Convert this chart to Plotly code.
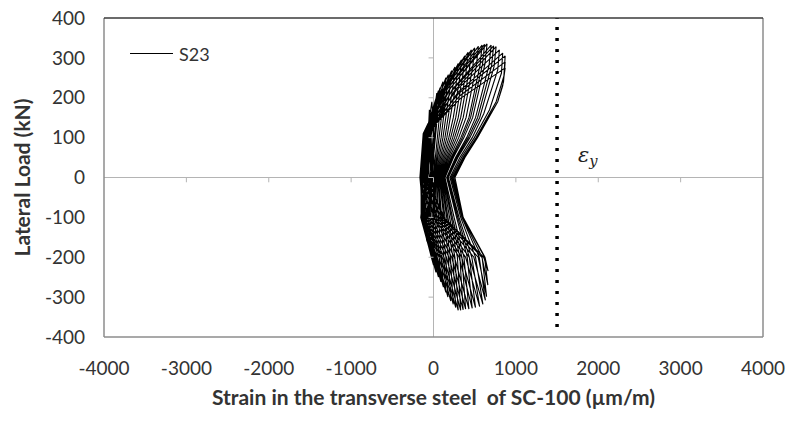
import plotly.graph_objects as go

# ---------------- data ----------------
# Hysteresis record of specimen S23: strain in transverse steel (µm/m) vs lateral load (kN)
strain_um = [
    0, -20, -40, -25, -10, -40, -80, -60, -30,                                     # i1
    -50, -60, -40, -20, -60, -110, -90, -50,                                       # i2
    -70, -50, -30, -10, -70, -90, -110, -70,                                       # i3
    -90, -20, 0, 10, -90, -80, -140, -100,                                         # i4
    -40, 0, 40, 15, -4, -24, -40, -60, -70, -150,                                  # c1
    -130, -90, -30, 60, 35, 10, -12, -30, -45, -50, -155,                          # c2
    -100, -60, -10, 80, 55, 25, 0, -20, -30, -30, -150,                            # c3
    -140, -100, -14, 115, 90, 52, 23, 0, -10, -5, 0, -26, -150,                    # c4
    -90, -50, 20, 150, 125, 73, 38, 10, 0, 10, 30, -19, -150,                      # c5
    -150, -110, 6, 180, 155, 92, 52, 20, 15, 40, 60, -5, -150,                     # c6
    -80, -40, 40, 220, 195, 115, 68, 30, 35, 65, 90, 9, -145,                      # c7
    -155, -115, 35, 260, 235, 139, 84, 40, 60, 95, 120, 22, -140,                  # c8
    -70, -30, 80, 300, 275, 162, 100, 50, 85, 125, 150, 36, -135,                  # c9
    -160, -120, 64, 340, 315, 240, 186, 116, 60, 100, 150, 175, 45, -130,          # c10
    -100, -60, 100, 380, 355, 270, 209, 132, 70, 125, 180, 210, 67, -120,          # c11
    -165, -125, 93, 420, 395, 300, 233, 148, 80, 140, 205, 240, 87, -115,          # c12
    -110, -70, 130, 460, 435, 330, 256, 164, 90, 160, 235, 270, 106, -105,         # c13
    -165, -125, 125, 500, 475, 360, 280, 180, 100, 175, 260, 300, 127, -90,        # c14
    -120, -80, 160, 545, 520, 395, 306, 197, 110, 195, 290, 330, 157, -70,         # c15
    -158, -118, 165, 590, 565, 430, 332, 214, 120, 215, 320, 360, 188, -50,        # c16
    -110, -70, 200, 620, 595, 450, 350, 228, 130, 230, 345, 390, 221, -30,         # c17
    -150, -110, 194, 650, 625, 475, 369, 242, 140, 250, 370, 430, 254, 0,          # c18
    -100, -60, 230, 700, 675, 510, 403, 268, 160, 280, 410, 470, 311, 10,          # c19
    -140, -100, 232, 730, 705, 535, 422, 282, 170, 295, 435, 510, 342, 30,         # c20
    -90, -50, 260, 760, 735, 560, 441, 296, 180, 310, 465, 560, 390, 50,           # c21
    -120, -80, 272, 800, 780, 610, 470, 320, 200, 330, 510, 600, 434, 70,          # c22
    -80, -40, 300, 840, 825, 680, 496, 340, 215, 345, 555, 630, 490, 90,           # c23
    -100, -60, 312, 870, 855, 760, 518, 358, 230, 350, 590, 645, 542, 110,         # c24
    -70, -30, 320, 870, 850, 780, 526, 370, 245, 355, 620, 660, 588, 120,          # c25
    -80, -40, 324, 870, 840, 780, 534, 382, 260, 360, 625, 663, 610, 130, -80,     # c26
]
load_kN = [
    0, 60, 120, 80, 0, -60, -110, -60, 0,                                          # i1
    70, 140, 90, 0, -70, -130, -70, 0,                                             # i2
    80, 170, 110, 0, -80, -150, -80, 0,                                            # i3
    90, 190, 120, 0, -90, -160, -90, 0,                                            # i4
    100, 156, 212, 162, 100, 50, 0, -100, -160, -100,                              # c1
    0, 100, 159, 218, 168, 100, 50, 0, -100, -180, -100,                           # c2
    0, 100, 162, 225, 175, 100, 50, 0, -100, -195, -100,                           # c3
    0, 100, 170, 240, 190, 100, 50, 0, -100, -200, -220, -200, -100,               # c4
    0, 100, 175, 250, 200, 100, 50, 0, -100, -200, -238, -200, -100,               # c5
    0, 100, 179, 258, 208, 100, 50, 0, -100, -200, -250, -200, -100,               # c6
    0, 100, 184, 268, 218, 100, 50, 0, -100, -200, -262, -200, -100,               # c7
    0, 100, 188, 277, 227, 100, 50, 0, -100, -200, -275, -200, -100,               # c8
    0, 105, 195, 286, 236, 100, 50, 0, -100, -200, -288, -200, -100,               # c9
    0, 105, 200, 295, 245, 150, 100, 50, 0, -100, -200, -300, -200, -100,          # c10
    0, 105, 205, 305, 255, 150, 100, 50, 0, -100, -200, -310, -200, -100,          # c11
    0, 105, 210, 314, 264, 150, 100, 50, 0, -100, -200, -318, -200, -100,          # c12
    0, 110, 215, 320, 270, 150, 100, 50, 0, -100, -200, -326, -200, -100,          # c13
    0, 110, 218, 325, 275, 150, 100, 50, 0, -100, -200, -333, -200, -100,          # c14
    0, 110, 220, 329, 279, 150, 100, 50, 0, -100, -200, -333, -200, -100,          # c15
    0, 110, 221, 332, 282, 150, 100, 50, 0, -100, -200, -332, -200, -100,          # c16
    0, 110, 222, 334, 284, 150, 100, 50, 0, -100, -200, -330, -200, -100,          # c17
    0, 110, 222, 335, 285, 150, 100, 50, 0, -100, -200, -330, -200, -100,          # c18
    0, 110, 221, 332, 282, 150, 100, 50, 0, -100, -200, -328, -200, -100,          # c19
    0, 110, 220, 330, 280, 150, 100, 50, 0, -100, -200, -326, -200, -100,          # c20
    0, 110, 219, 328, 278, 150, 100, 50, 0, -100, -200, -324, -200, -100,          # c21
    0, 115, 218, 320, 270, 160, 100, 50, 0, -100, -200, -318, -200, -100,          # c22
    0, 115, 214, 312, 262, 170, 100, 50, 0, -100, -200, -308, -200, -100,          # c23
    0, 120, 212, 305, 255, 190, 100, 50, 0, -100, -200, -299, -200, -100,          # c24
    0, 120, 205, 290, 240, 190, 100, 50, 0, -100, -200, -270, -200, -100,          # c25
    0, 120, 198, 275, 230, 190, 100, 50, 0, -100, -200, -235, -200, -100, 0,       # c26
]
assert len(strain_um) == len(load_kN)

# yield strain marker
yield_strain = [1500, 1500]
yield_load = [-375, 400]
yield_label = "<i>ε<sub>y</sub></i>"

series_name = "S23"
x_ticks = [-4000, -3000, -2000, -1000, 0, 1000, 2000, 3000, 4000]
y_ticks = [-400, -300, -200, -100, 0, 100, 200, 300, 400]
x_title = "Strain in the transverse steel  of SC-100 (µm/m)"
y_title = "Lateral Load (kN)"

# ---------------- figure ----------------
FONT = "Lato, 'DejaVu Sans', sans-serif"
TXT = "#333333"
fig = go.Figure()

fig.add_trace(go.Scatter(
    x=strain_um, y=load_kN, mode="lines", name=series_name,
    line=dict(color="#000000", width=1.1), showlegend=False,
))
fig.add_trace(go.Scatter(
    x=yield_strain, y=yield_load, mode="lines", showlegend=False,
    line=dict(color="#000000", width=3.5, dash="3px,8px"),
))

fig.add_annotation(
    x=1870, y=55, xref="x", yref="y", text=yield_label, showarrow=False,
    font=dict(family="'DejaVu Serif', serif", size=21, color="#222222"),
)

# legend drawn Excel-style (longer line sample)
fig.add_annotation(
    x=0.1107, y=0.8887, xref="paper", yref="paper", xanchor="left", yanchor="middle",
    text=series_name, showarrow=False, font=dict(family=FONT, size=18, color=TXT),
)

shapes = [dict(type="line", xref="paper", yref="paper", x0=0.0395, x1=0.1047,
               y0=0.8887, y1=0.8887, line=dict(color="#000000", width=1))]
# small tick marks on the zero lines (axes crossing at zero)
for t in x_ticks[1:-1]:
    shapes.append(dict(type="line", xref="x", yref="y", x0=t, x1=t, y0=0, y1=-12,
                       line=dict(color="#b4b4b4", width=1)))
for t in y_ticks[1:-1]:
    shapes.append(dict(type="line", xref="x", yref="y", x0=-60, x1=0, y0=t, y1=t,
                       line=dict(color="#b4b4b4", width=1)))
# plot-area frame: grey left/right/bottom, darker top
frame_grey = "#8c8c8c"
shapes += [
    dict(type="line", xref="paper", yref="paper", x0=0, x1=0, y0=0, y1=1,
         line=dict(color=frame_grey, width=1.5)),
    dict(type="line", xref="paper", yref="paper", x0=1, x1=1, y0=0, y1=1,
         line=dict(color=frame_grey, width=1.5)),
    dict(type="line", xref="paper", yref="paper", x0=0, x1=1, y0=0, y1=0,
         line=dict(color=frame_grey, width=1.5)),
    dict(type="line", xref="paper", yref="paper", x0=0, x1=1, y0=1, y1=1,
         line=dict(color="#3a3a3a", width=1.5)),
]

fig.update_layout(
    width=792, height=423,
    margin=dict(l=104, r=29, t=18, b=86, autoexpand=False),
    paper_bgcolor="white", plot_bgcolor="white",
    font=dict(family=FONT, color=TXT),
    shapes=shapes,
    showlegend=False,
    xaxis=dict(
        range=[-4000, 4000], tickvals=x_ticks, ticktext=[str(v) for v in x_ticks],
        showgrid=False, zeroline=True, zerolinecolor="#b4b4b4", zerolinewidth=1,
        showline=False, ticks="", ticklabeloverflow="allow", automargin=False,
        ticklabelstandoff=18, tickfont=dict(size=19, family=FONT, color=TXT),
        title=dict(text="<b>" + x_title + "</b>", standoff=12,
                   font=dict(size=21, family=FONT, color=TXT)),
    ),
    yaxis=dict(
        range=[-400, 400], tickvals=y_ticks, ticktext=[str(v) for v in y_ticks],
        showgrid=False, zeroline=True, zerolinecolor="#b4b4b4", zerolinewidth=1,
        showline=False, ticks="", ticklabeloverflow="allow", automargin=False,
        ticklabelstandoff=18, tickfont=dict(size=19, family=FONT, color=TXT),
        title=dict(text="<b>" + y_title + "</b>", standoff=8,
                   font=dict(size=21, family=FONT, color=TXT)),
    ),
)

# the page body's default 8px margin would shift the figure; remove it
fig.write_html("out.html", config={"displayModeBar": False},
               post_script="document.body.style.margin='0';")
